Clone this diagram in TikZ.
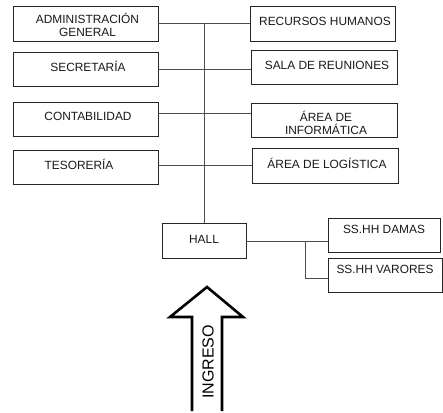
\documentclass[tikz,border=0pt]{standalone}
\usepackage{fontspec}
\setmainfont{Liberation Sans}
\begin{document}
\begin{tikzpicture}[x=1pt,y=-1pt,
  box/.style={draw=black!85,line width=0.8pt,inner sep=0pt},
  txt/.style={inner sep=0pt,font=\fontsize{11.9}{13.5}\selectfont,text=black!90,align=center},
  conn/.style={draw=black!70,line width=0.8pt}]
\useasboundingbox (0,0) rectangle (443,412);
% boxes (left)
\node[box,minimum width=145pt,minimum height=35pt] (adm) at (85.5,23.5) {};
\node[box,minimum width=145pt,minimum height=34pt] (sec) at (85.5,69) {};
\node[box,minimum width=145pt,minimum height=34pt] (cont) at (85.5,119) {};
\node[box,minimum width=145pt,minimum height=34pt] (tes) at (85.5,167) {};
% boxes (right)
\node[box,minimum width=145pt,minimum height=35pt] (rh) at (322.5,23.5) {};
\node[box,minimum width=146pt,minimum height=34pt] (sala) at (324,67) {};
\node[box,minimum width=146pt,minimum height=34pt] (inf) at (324,120) {};
\node[box,minimum width=146pt,minimum height=35pt] (log) at (325,165.5) {};
\node[box,minimum width=84pt,minimum height=35pt] (hall) at (204,240.5) {};
\node[box,minimum width=112pt,minimum height=34pt] (damas) at (384,235) {};
\node[box,minimum width=114pt,minimum height=34pt] (var) at (385,275) {};
% texts
\node[txt] (tadm) at (87.5,25) {ADMINISTRACIÓN\\GENERAL};
\node[txt] (tsec) at (88,66) {SECRETARÍA};
\node[txt] (tcont) at (88,116) {CONTABILIDAD};
\node[txt] (ttes) at (79,164) {TESORERÍA};
\node[txt] (trh) at (325,21) {RECURSOS HUMANOS};
\node[txt] (tsala) at (327,65) {SALA DE REUNIONES};
\node[txt] (tinf) at (326,123) {ÁREA DE\\INFORMÁTICA};
\node[txt] (tlog) at (327,163) {ÁREA DE LOGÍSTICA};
\node[txt] (thall) at (204,239) {HALL};
\node[txt] (tdamas) at (384,229) {SS.HH DAMAS};
\node[txt] (tvar) at (385,269) {SS.HH VARORES};
% connectors
\coordinate (top) at (204,23);
\draw[conn] (top) -- (hall.north);
\draw[conn] (adm.east) -- (rh.west);
\draw[conn] (sec.east) -- (sec.east -| sala.west);
\draw[conn] (cont.east |- 0,113) -- (inf.west |- 0,113);
\draw[conn] (tes.east |- 0,165) -- (log.west |- 0,165);
\coordinate (br) at (305,241);
\draw[conn] (hall.east |- br) -- (damas.west |- br);
\draw[conn] (br) -- (305,278) -- (var.west |- 0,278);
% arrow
\draw[line width=2.6pt,line join=miter] (192,411) -- (192,317) -- (170,317) -- (207,287) -- (243,317) -- (222,317) -- (222,411);
\node[inner sep=0pt,rotate=90,font=\fontsize{16}{18}\selectfont] (ingreso) at (208,362) {INGRESO};
\end{tikzpicture}
\end{document}
